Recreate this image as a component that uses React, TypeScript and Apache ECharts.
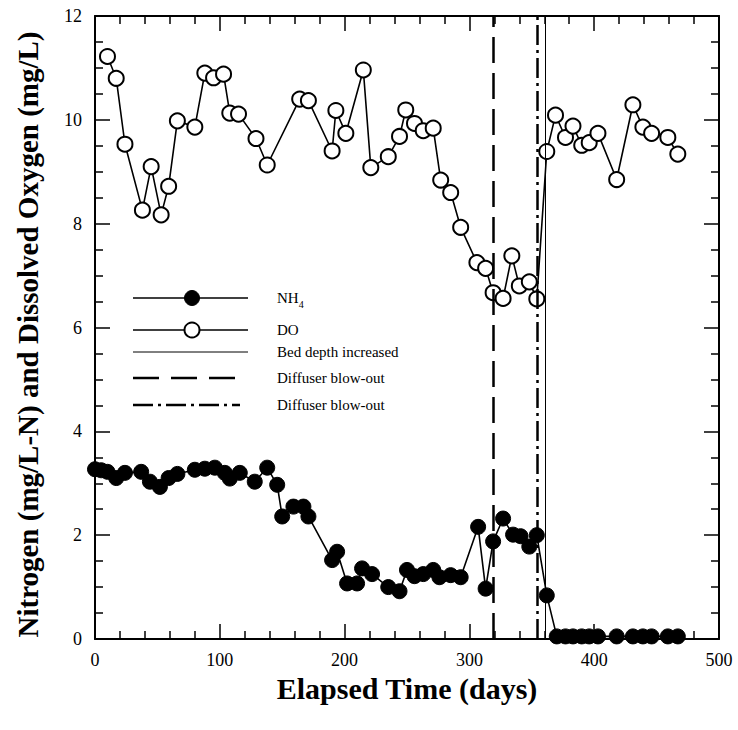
import React, { useEffect, useRef } from 'react';
import * as echarts from 'echarts';

const FONT = '"Liberation Serif", "Times New Roman", serif';

const doDays = [10, 17, 24, 38, 45, 53, 59, 66, 80, 88, 95, 103, 108, 115, 129, 138, 164, 171, 190, 193, 201, 215, 221, 235, 244, 249, 256, 263, 271, 277, 285, 293, 306, 313, 319, 327, 334, 340, 348, 354, 362, 369, 377, 383, 390, 396, 403, 418, 431, 439, 446, 459, 467];
const doValues = [11.22, 10.8, 9.53, 8.26, 9.1, 8.17, 8.72, 9.98, 9.86, 10.9, 10.81, 10.88, 10.13, 10.11, 9.64, 9.13, 10.4, 10.37, 9.4, 10.18, 9.74, 10.96, 9.08, 9.29, 9.68, 10.19, 9.93, 9.79, 9.84, 8.84, 8.6, 7.93, 7.25, 7.14, 6.67, 6.56, 7.38, 6.8, 6.88, 6.55, 9.39, 10.09, 9.66, 9.88, 9.51, 9.56, 9.74, 8.85, 10.29, 9.86, 9.74, 9.66, 9.34];

const nh4Days = [0, 5, 10, 17, 24, 37, 44, 52, 59, 66, 80, 88, 96, 104, 108, 116, 128, 138, 146, 150, 159, 167, 171, 190, 194, 202, 210, 214, 222, 235, 244, 250, 256, 263, 271, 276, 285, 293, 307, 313, 319, 327, 335, 341, 348, 354, 362, 370, 377, 383, 390, 396, 403, 418, 431, 439, 446, 459, 467];
const nh4Values = [3.27, 3.25, 3.22, 3.1, 3.2, 3.22, 3.03, 2.93, 3.1, 3.18, 3.26, 3.28, 3.3, 3.2, 3.09, 3.2, 3.03, 3.3, 2.97, 2.36, 2.55, 2.55, 2.36, 1.52, 1.68, 1.07, 1.07, 1.36, 1.25, 1.0, 0.92, 1.33, 1.21, 1.25, 1.33, 1.19, 1.23, 1.19, 2.16, 0.97, 1.88, 2.32, 2.01, 1.98, 1.78, 2.0, 0.84, 0.05, 0.05, 0.05, 0.05, 0.05, 0.05, 0.05, 0.05, 0.05, 0.05, 0.05, 0.05];

const bedDepthDay = 361;
const diffuserDay1 = 319;
const diffuserDay2 = 354;

const legendLabels = ['NH4', 'DO', 'Bed depth increased', 'Diffuser blow-out', 'Diffuser blow-out'];

export default function App() {
  const ref = useRef<HTMLDivElement>(null);
  useEffect(() => {
    const chart = echarts.init(ref.current!, null, { renderer: 'svg' });
    const tickStyle = { color: '#000', width: 1.5 };
    const xBase = {
      type: 'value',
      min: 0,
      max: 500,
      interval: 100,
      axisLine: { show: true, onZero: false, lineStyle: { color: '#000', width: 2 } },
      axisTick: { show: true, inside: true, length: 15, lineStyle: tickStyle },
      minorTick: { show: true, splitNumber: 5, length: 8, lineStyle: tickStyle },
      splitLine: { show: false },
    };
    const yBase = {
      type: 'value',
      min: 0,
      max: 12,
      interval: 2,
      axisLine: { show: true, onZero: false, lineStyle: { color: '#000', width: 2 } },
      axisTick: { show: true, inside: true, length: 15, lineStyle: tickStyle },
      minorTick: { show: true, splitNumber: 4, length: 8, lineStyle: tickStyle },
      splitLine: { show: false },
    };
    const lx0 = 133, lx1 = 248, mx = 192, tx = 277;
    const rows = [298, 330, 352, 378, 405];
    const graphics: any[] = [
      { type: 'line', shape: { x1: lx0, y1: rows[0], x2: lx1, y2: rows[0] }, style: { stroke: '#000', lineWidth: 1.6 } },
      { type: 'circle', shape: { cx: mx, cy: rows[0], r: 7.5 }, style: { fill: '#000', stroke: '#000', lineWidth: 1 } },
      { type: 'line', shape: { x1: lx0, y1: rows[1], x2: lx1, y2: rows[1] }, style: { stroke: '#000', lineWidth: 1.6 } },
      { type: 'circle', shape: { cx: mx, cy: rows[1], r: 7.5 }, style: { fill: '#fff', stroke: '#000', lineWidth: 2 } },
      { type: 'line', shape: { x1: lx0, y1: rows[2], x2: lx1, y2: rows[2] }, style: { stroke: '#000', lineWidth: 1 } },
      { type: 'line', shape: { x1: lx0, y1: rows[3], x2: 237, y2: rows[3] }, style: { stroke: '#000', lineWidth: 2.5, lineDash: [26, 12] } },
      { type: 'line', shape: { x1: lx0, y1: rows[4], x2: 240, y2: rows[4] }, style: { stroke: '#000', lineWidth: 2.5, lineDash: [20, 5, 3, 5] } },
      {
        type: 'text', x: tx, y: rows[0],
        style: {
          text: '{a|NH}{b|4}',
          verticalAlign: 'middle',
          rich: {
            a: { fontFamily: FONT, fontSize: 15, fill: '#000', lineHeight: 22, verticalAlign: 'middle' },
            b: { fontFamily: FONT, fontSize: 10, fill: '#000', lineHeight: 22, verticalAlign: 'bottom' },
          },
        },
      },
    ];
    legendLabels.slice(1).forEach((t, i) => {
      graphics.push({
        type: 'text', x: tx, y: rows[i + 1],
        style: { text: t, fontFamily: FONT, fontSize: 15, fill: '#000', verticalAlign: 'middle' },
      });
    });

    chart.setOption({
      animation: false,
      backgroundColor: '#fff',
      grid: { left: 95, right: 19, top: 16, bottom: 91, containLabel: false },
      xAxis: [
        {
          ...xBase,
          position: 'bottom',
          axisLabel: { color: '#000', fontFamily: FONT, fontSize: 18, margin: 12 },
          name: 'Elapsed Time (days)',
          nameLocation: 'middle',
          nameGap: 33,
          nameTextStyle: { fontFamily: FONT, fontWeight: 'bold', fontSize: 30, color: '#000' },
        },
        { ...xBase, position: 'top', axisLabel: { show: false } },
      ],
      yAxis: [
        {
          ...yBase,
          position: 'left',
          axisLabel: { color: '#000', fontFamily: FONT, fontSize: 18, margin: 13 },
          name: 'Nitrogen (mg/L-N) and Dissolved Oxygen (mg/L)',
          nameLocation: 'middle',
          nameRotate: 90,
          nameGap: 53,
          nameTextStyle: { fontFamily: FONT, fontWeight: 'bold', fontSize: 29, color: '#000', padding: [0, 14, 0, 0] },
        },
        { ...yBase, position: 'right', axisLabel: { show: false } },
      ],
      series: [
        {
          name: 'NH4',
          type: 'line',
          data: nh4Days.map((d, i) => [d, nh4Values[i]]),
          symbol: 'circle',
          symbolSize: 15,
          itemStyle: { color: '#000', borderColor: '#000', borderWidth: 1 },
          lineStyle: { color: '#000', width: 1.6 },
          z: 2,
        },
        {
          name: 'DO',
          type: 'line',
          data: doDays.map((d, i) => [d, doValues[i]]),
          symbol: 'circle',
          symbolSize: 15,
          itemStyle: { color: '#fff', borderColor: '#000', borderWidth: 2 },
          lineStyle: { color: '#000', width: 1.6 },
          z: 3,
        },
        {
          name: 'events',
          type: 'line',
          data: [],
          z: 5,
          markLine: {
            silent: true,
            symbol: ['none', 'none'],
            label: { show: false },
            data: [
              { xAxis: bedDepthDay, lineStyle: { type: 'solid', width: 1, color: '#000' } },
              { xAxis: diffuserDay1, lineStyle: { type: [26, 10], width: 2.5, color: '#000' } },
              { xAxis: diffuserDay2, lineStyle: { type: [20, 5, 3, 5], width: 2.5, color: '#000' } },
            ],
          },
        },
      ],
      graphic: graphics,
    });
    return () => chart.dispose();
  }, []);
  return (
    <div
      ref={ref}
      style={{ position: 'absolute', left: 0, top: 0, width: 738, height: 730, background: '#fff' }}
    />
  );
}
